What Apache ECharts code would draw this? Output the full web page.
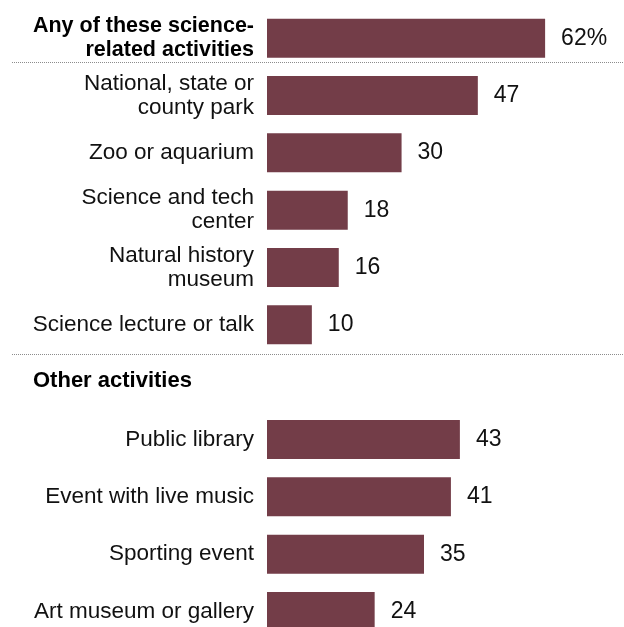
<!DOCTYPE html>
<html>
<head>
<meta charset="utf-8">
<script src="https://cdn.jsdelivr.net/npm/echarts@6/dist/echarts.min.js"></script>
<style>
  html, body { margin: 0; padding: 0; background: #ffffff; }
  #chart { width: 624px; height: 627px; }
</style>
</head>
<body>
<div id="chart"></div>
<script>
// Rows, top to bottom. The "Other activities" row is a group heading with no bar.
const categories = [
  'Any of these science-\nrelated activities',
  'National, state or\ncounty park',
  'Zoo or aquarium',
  'Science and tech\ncenter',
  'Natural history\nmuseum',
  'Science lecture or talk',
  'Other activities',
  'Public library',
  'Event with live music',
  'Sporting event',
  'Art museum or gallery'
];
const values = [62, 47, 30, 18, 16, 10, null, 43, 41, 35, 24];

// Row roles
const totalRows = ['Any of these science-\nrelated activities'];
const groupHeadings = ['Other activities'];
const dividersAfter = ['Any of these science-\nrelated activities', 'Science lecture or talk'];

const BAR_COLOR = '#733d48';
const TEXT_COLOR = '#111111';
const FONT = '"Liberation Sans", Arial, Helvetica, sans-serif';
const BAR_WIDTH = 39;

const chart = echarts.init(document.getElementById('chart'), null, { renderer: 'canvas' });

chart.setOption({
  animation: false,
  backgroundColor: '#ffffff',
  // Rows sit on the category ticks (boundaryGap false), first and last row on the grid edges
  grid: { left: 267, top: 38.2, width: 314, bottom: 15.5, containLabel: false },
  xAxis: {
    type: 'value', min: 0, max: 70, show: false
  },
  yAxis: {
    type: 'category',
    inverse: true,
    boundaryGap: false,
    data: categories,
    axisLine: { show: false },
    axisTick: { show: false },
    splitLine: { show: false },
    axisLabel: {
      margin: 13,
      color: TEXT_COLOR,
      fontFamily: FONT,
      fontSize: 22.5,
      lineHeight: 24,
      interval: 0,
      formatter: function (name) {
        if (totalRows.indexOf(name) >= 0) return '{total|' + name + '}';
        if (groupHeadings.indexOf(name) >= 0) return '{group|' + name + '}';
        return name;
      },
      rich: {
        total: {
          fontFamily: FONT, fontWeight: 'bold', fontSize: 21.5, lineHeight: 24,
          color: '#000000', align: 'right'
        },
        group: {
          fontFamily: FONT, fontWeight: 'bold', fontSize: 22, lineHeight: 24,
          color: '#000000', width: 221, align: 'left', padding: [0, 0, 3, 0]
        }
      }
    }
  },
  series: [
    {
      type: 'bar',
      data: values,
      barWidth: BAR_WIDTH,
      clip: false,
      itemStyle: { color: BAR_COLOR },
      label: {
        show: true,
        position: 'right',
        distance: 16,
        color: TEXT_COLOR,
        fontFamily: FONT,
        fontSize: 23,
        formatter: function (p) {
          return p.dataIndex === 0 ? p.value + '%' : String(p.value);
        }
      }
    },
    {
      // Dotted rules that split the total row and the two groups
      type: 'custom',
      clip: false,
      silent: true,
      data: dividersAfter.map(function (name) { return [0, name]; }),
      encode: { x: 0, y: 1 },
      renderItem: function (params, api) {
        const center = api.coord([0, api.value(1)]);
        const band = api.size([0, 1])[1];
        const offset = params.dataIndex === 0 ? BAR_WIDTH / 2 + 4 : band / 2;
        const y = Math.round(center[1] + offset) + 0.5;
        return {
          type: 'line',
          shape: { x1: 12, y1: y, x2: 624, y2: y },
          style: { stroke: '#8c8c8c', lineWidth: 1, lineDash: [1, 1] }
        };
      }
    }
  ]
});
</script>
</body>
</html>
